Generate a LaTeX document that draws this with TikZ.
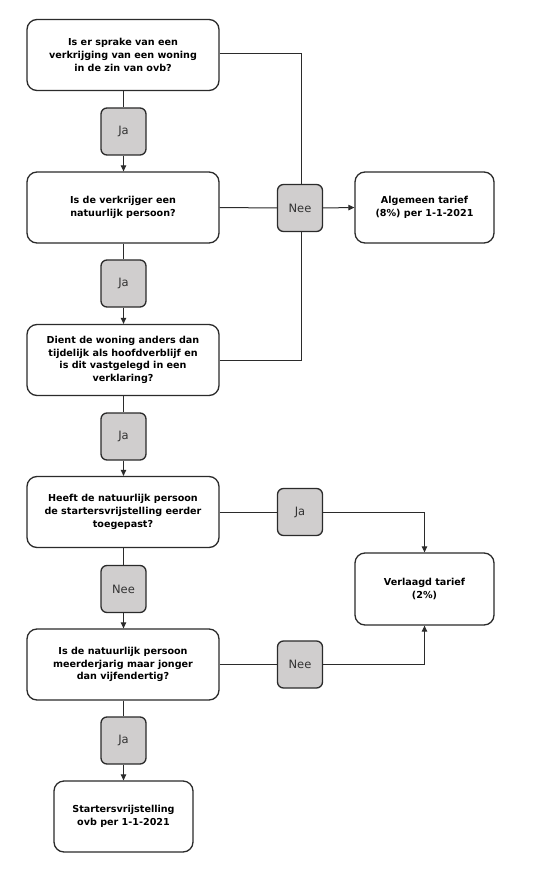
\documentclass[tikz,border=0pt]{standalone}
\usepackage{fontspec}
\setmainfont{DejaVu Sans}
\usetikzlibrary{arrows.meta}
\definecolor{lblfill}{HTML}{D0CECE}
\definecolor{edge}{HTML}{2B2B2B}
\definecolor{lbltext}{HTML}{333333}
\begin{document}
\begin{tikzpicture}[x=1pt,y=-1pt,
  qbox/.style={draw=edge,line width=1.3pt,rounded corners=10pt,fill=white,
    minimum width=192pt,minimum height=71pt,align=center,inner sep=2pt,
    font=\fontsize{9.6}{12.7}\selectfont\bfseries},
  rbox/.style={qbox,minimum width=139pt},
  lbl/.style={draw=edge,line width=1.3pt,rounded corners=6pt,fill=lblfill,
    minimum width=45pt,minimum height=47pt,inner sep=0pt,text=lbltext,
    font=\fontsize{11.5}{13}\selectfont},
  conn/.style={draw=edge,line width=1pt},
  arr/.style={conn,-{Triangle[length=6pt,width=5.5pt]}}]
\useasboundingbox (0,0) rectangle (553,890);
\fill[white] (0,0) rectangle (553,890);
\node[qbox] (q1) at (123,55) {Is er sprake van een\\verkrijging van een woning\\in de zin van ovb?};
\node[qbox] (q2) at (123,207.5) {Is de verkrijger een\\natuurlijk persoon?};
\node[qbox] (q3) at (123,360) {Dient de woning anders dan\\tijdelijk als hoofdverblijf en\\is dit vastgelegd in een\\verklaring?};
\node[qbox] (q4) at (123,512) {Heeft de natuurlijk persoon\\de startersvrijstelling eerder\\toegepast?};
\node[qbox] (q5) at (123,664.5) {Is de natuurlijk persoon\\meerderjarig maar jonger\\dan vijfendertig?};
\node[rbox] (r6) at (123.5,816.5) {Startersvrijstelling\\ovb per 1-1-2021};
\node[rbox] (alg) at (424.5,207.5) {Algemeen tarief\\(8\%) per 1-1-2021};
\node[rbox,minimum height=72pt] (verl) at (424.5,589) {Verlaagd tarief\\(2\%)};
\node[lbl] (ja1) at (123.5,131.5) {Ja};
\node[lbl] (ja2) at (123.5,283.5) {Ja};
\node[lbl] (ja3) at (123.5,436.5) {Ja};
\node[lbl] (nee2) at (123.5,589) {Nee};
\node[lbl] (ja4) at (123.5,740.5) {Ja};
\node[lbl] (nee1) at (300,208) {Nee};
\node[lbl] (jar) at (300,512) {Ja};
\node[lbl] (neer) at (300,664.5) {Nee};
% vertical chain
\draw[conn] (q1.south -| ja1) -- (ja1.north);
\draw[arr] (ja1.south) -- (ja1.south |- q2.north);
\draw[conn] (q2.south -| ja2) -- (ja2.north);
\draw[arr] (ja2.south) -- (ja2.south |- q3.north);
\draw[conn] (q3.south -| ja3) -- (ja3.north);
\draw[arr] (ja3.south) -- (ja3.south |- q4.north);
\draw[conn] (q4.south -| nee2) -- (nee2.north);
\draw[arr] (nee2.south) -- (nee2.south |- q5.north);
\draw[conn] (q5.south -| ja4) -- (ja4.north);
\draw[arr] (ja4.south) -- (r6.north -| ja4);
% Nee branch
\draw[conn] ([yshift=1pt]q1.east) -| ([xshift=1pt]nee1.north);
\draw[conn] (q2.east) -- (nee1.west);
\draw[arr] (nee1.east) -- (alg.west);
\draw[conn] (q3.east) -| ([xshift=1pt]nee1.south);
% Verlaagd branch
\draw[conn] (q4.east) -- (jar.west);
\draw[arr] (jar.east) -| (verl.north);
\draw[conn] (q5.east) -- (neer.west);
\draw[arr] (neer.east) -| (verl.south);
\end{tikzpicture}
\end{document}
